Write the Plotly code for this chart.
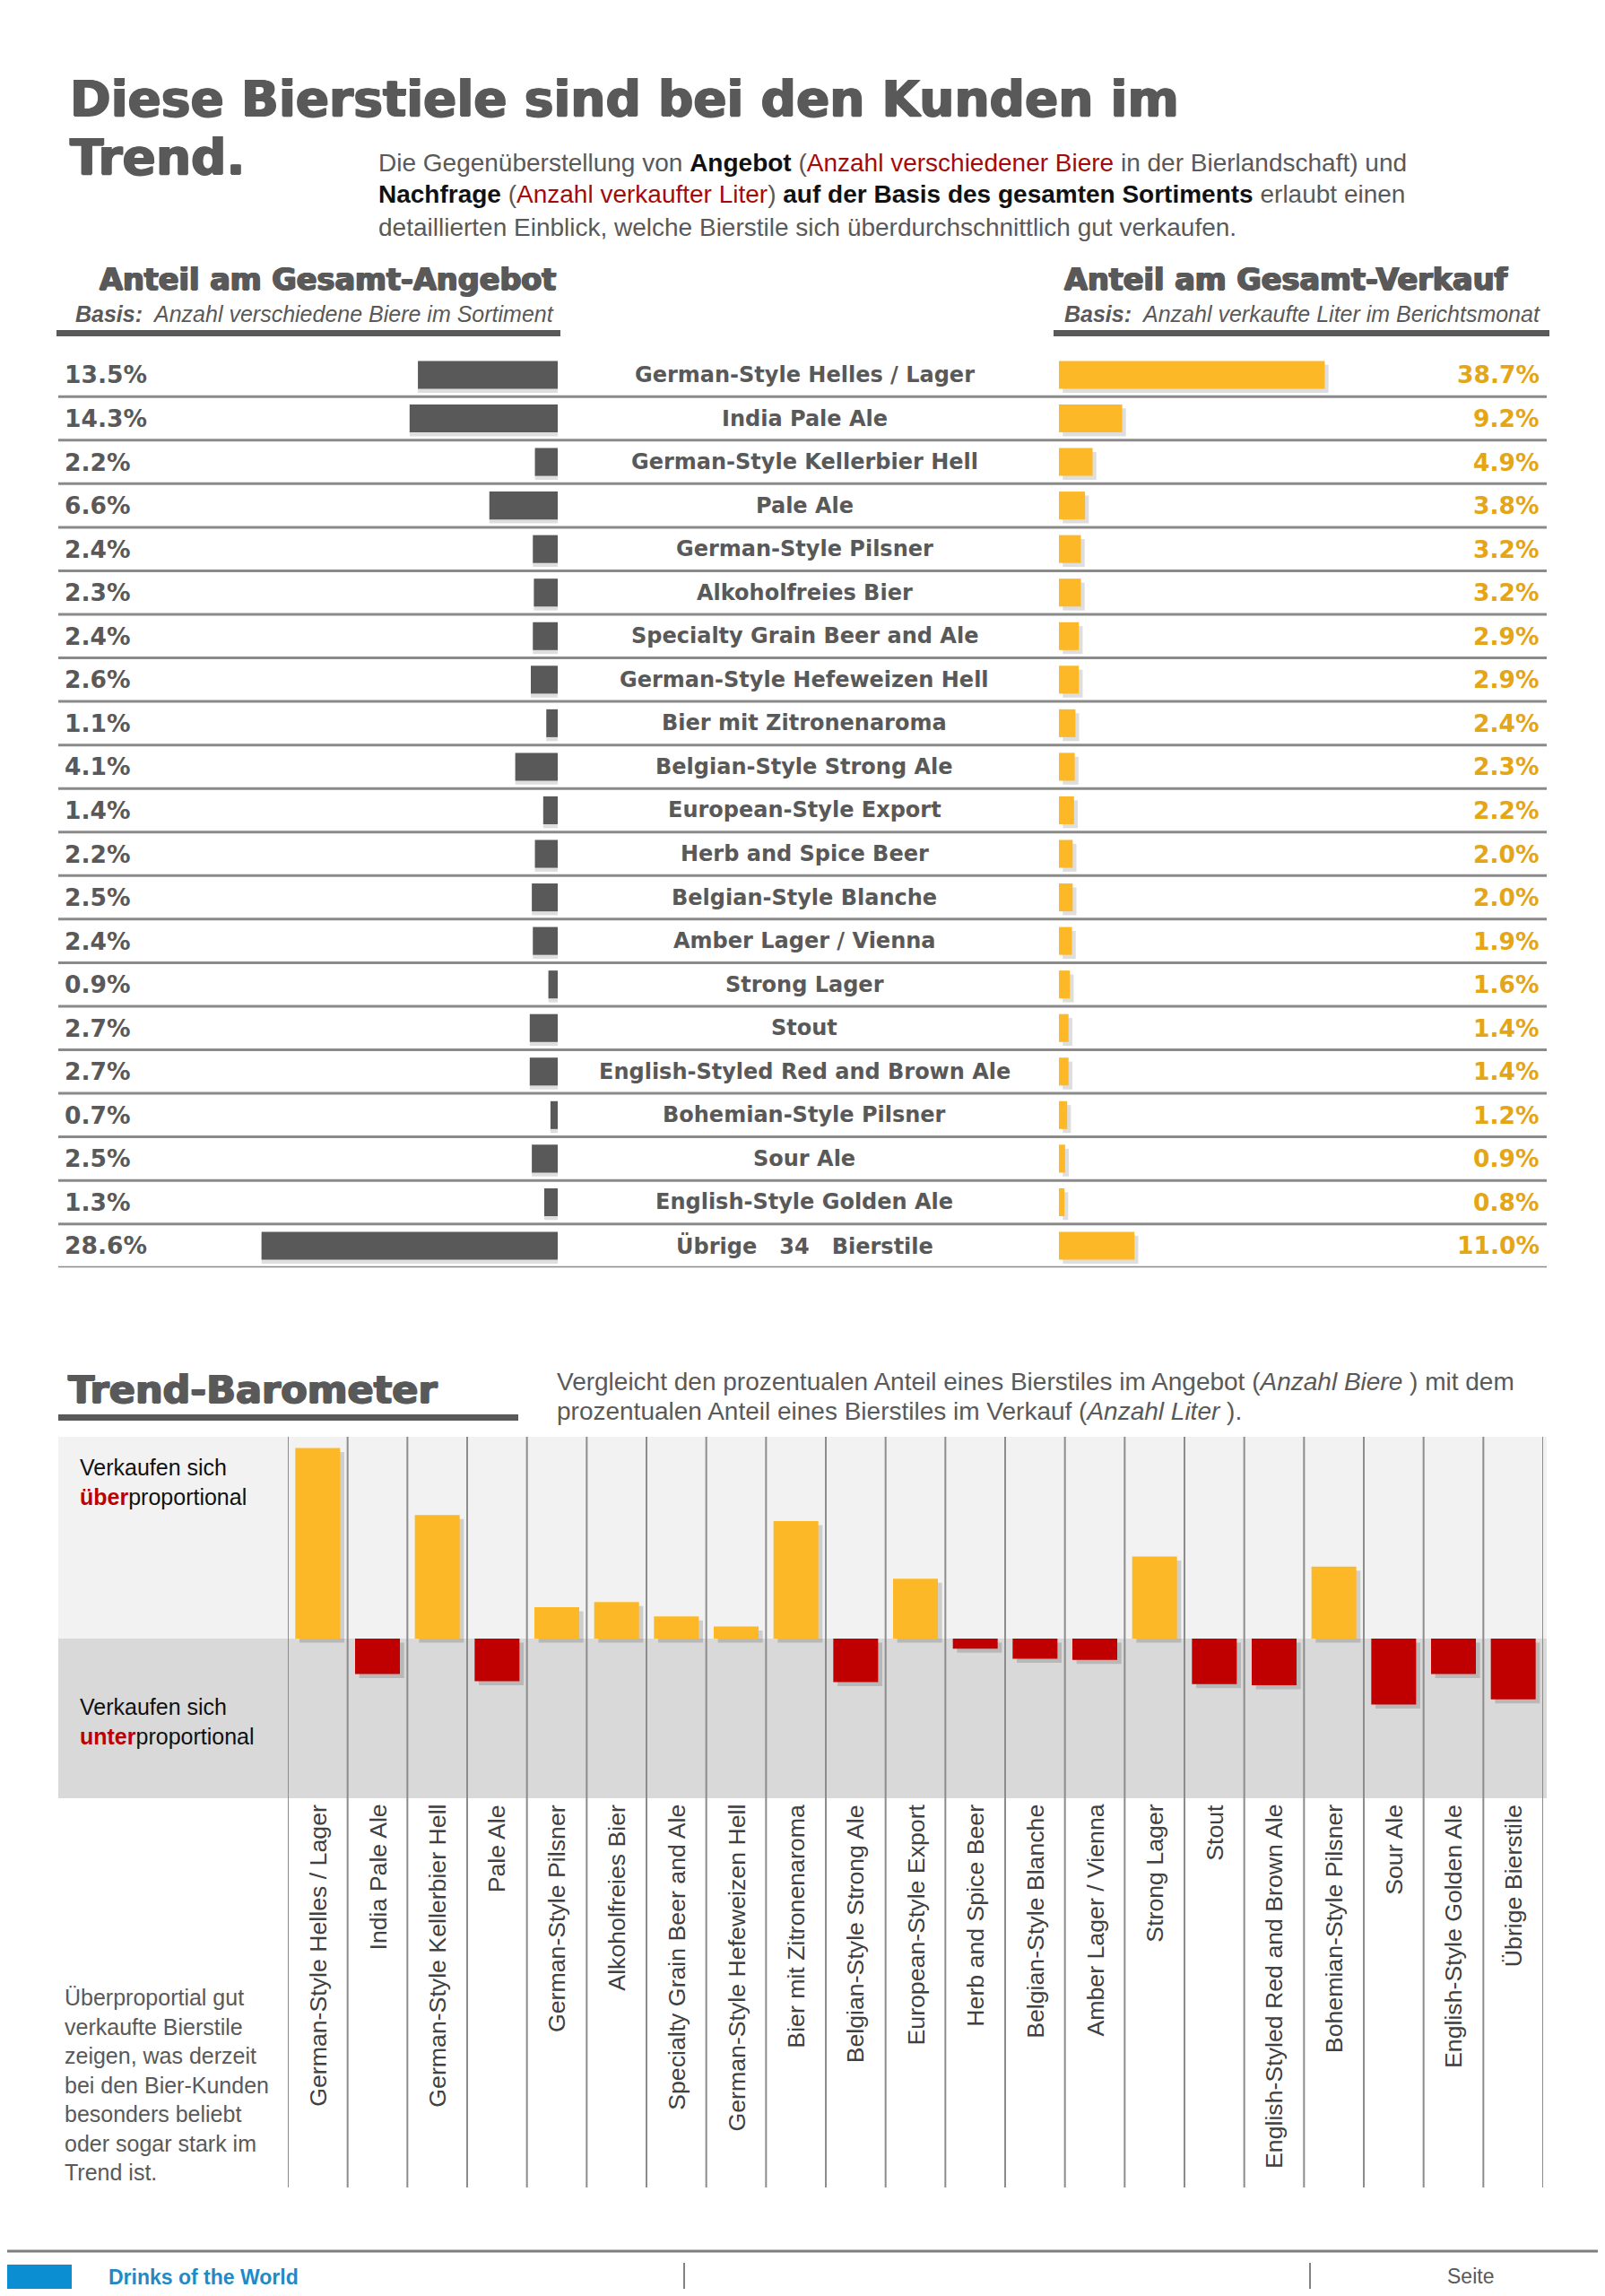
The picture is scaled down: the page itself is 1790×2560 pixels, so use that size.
import plotly.graph_objects as go

W, H = 1790, 2560
PAD = 8                      # default body margin of the html page
FW, FH = W - 2 * PAD, H - 2 * PAD


def px(x):
    return (x - PAD) / FW


def py(y):
    return 1 - (y - PAD) / FH


# ---------------- data ----------------
styles = [
    "German-Style Helles / Lager", "India Pale Ale", "German-Style Kellerbier Hell",
    "Pale Ale", "German-Style Pilsner", "Alkoholfreies Bier",
    "Specialty Grain Beer and Ale", "German-Style Hefeweizen Hell",
    "Bier mit Zitronenaroma", "Belgian-Style Strong Ale", "European-Style Export",
    "Herb and Spice Beer", "Belgian-Style Blanche", "Amber Lager / Vienna",
    "Strong Lager", "Stout", "English-Styled Red and Brown Ale",
    "Bohemian-Style Pilsner", "Sour Ale", "English-Style Golden Ale",
    "Übrige\u00a0\u00a0 34\u00a0\u00a0 Bierstile",
]
angebot = [13.5, 14.3, 2.2, 6.6, 2.4, 2.3, 2.4, 2.6, 1.1, 4.1, 1.4,
           2.2, 2.5, 2.4, 0.9, 2.7, 2.7, 0.7, 2.5, 1.3, 28.6]
verkauf = [38.7, 9.2, 4.9, 3.8, 3.2, 3.2, 2.9, 2.9, 2.4, 2.3, 2.2,
           2.0, 2.0, 1.9, 1.6, 1.4, 1.4, 1.2, 0.9, 0.8, 11.0]

trend_labels = [
    "German-Style Helles / Lager", "India Pale Ale", "German-Style Kellerbier Hell",
    "Pale Ale", "German-Style Pilsner", "Alkoholfreies Bier",
    "Specialty Grain Beer and Ale", "German-Style Hefeweizen Hell",
    "Bier mit Zitronenaroma", "Belgian-Style Strong Ale", "European-Style Export",
    "Herb and Spice Beer", "Belgian-Style Blanche", "Amber Lager / Vienna",
    "Strong Lager", "Stout", "English-Styled Red and Brown Ale",
    "Bohemian-Style Pilsner", "Sour Ale", "English-Style Golden Ale",
    "Übrige Bierstile",
]
# trend index read from the barometer (Verkauf share relative to Angebot share, minus 1)
trend_index = [1.88, -0.35, 1.22, -0.42, 0.31, 0.36, 0.22, 0.12, 1.16, -0.43, 0.59,
               -0.10, -0.20, -0.21, 0.81, -0.45, -0.46, 0.71, -0.65, -0.35, -0.60]

# ---------------- styles ----------------
GRAY = "#595959"
ORANGE = "#FDB827"
ORANGE_TXT = "#E4A516"
RED = "#C00000"
DARKRED = "#A50A0A"
SANS = "Liberation Sans, Arial, sans-serif"
WIDE = "DejaVu Sans, Verdana, sans-serif"
HEAVY = "1px 0px 0px #595959, -1px 0px 0px #595959, 0px 0.7px 0px #595959"

rows = list(range(len(styles)))
cols = list(range(len(trend_labels)))

# layout geometry (pixels of the 1790x2560 page)
ROW_TOP, ROW_H = 393.7, 48.55
ROW_BOT = ROW_TOP + ROW_H * len(rows)
L_X0, L_X1, L_SCALE = 65, 622, 11.55
R_X0, R_X1, R_SCALE = 1181, 1725, 7.66
B_X0, B_X1 = 321, 1721
B_TOP, B_ZERO, B_BOT, B_SCALE = 1602, 1827, 2005, 113.0

fig = go.Figure()

# ---- top table bars ----
fig.add_trace(go.Bar(x=angebot, y=[r + 0.09 for r in rows], orientation="h", width=0.64,
                     marker=dict(color="rgba(0,0,0,0.13)", line_width=0),
                     xaxis="x", yaxis="y", hoverinfo="skip", showlegend=False))
fig.add_trace(go.Bar(x=angebot, y=rows, orientation="h", width=0.64,
                     marker=dict(color=GRAY, line_width=0),
                     xaxis="x", yaxis="y", showlegend=False))
fig.add_trace(go.Bar(x=verkauf, y=[r + 0.09 for r in rows], base=0.55, orientation="h", width=0.64,
                     marker=dict(color="rgba(0,0,0,0.13)", line_width=0),
                     xaxis="x2", yaxis="y2", hoverinfo="skip", showlegend=False))
fig.add_trace(go.Bar(x=verkauf, y=rows, orientation="h", width=0.64,
                     marker=dict(color=ORANGE, line_width=0),
                     xaxis="x2", yaxis="y2", showlegend=False))

# ---- barometer bars ----
fig.add_trace(go.Bar(x=cols, y=trend_index, base=-0.04, width=0.75, offset=-0.375 + 0.07,
                     marker=dict(color="rgba(0,0,0,0.15)", line_width=0),
                     xaxis="x3", yaxis="y3", hoverinfo="skip", showlegend=False))
fig.add_trace(go.Bar(x=cols, y=trend_index, width=0.75,
                     marker=dict(color=[ORANGE if v > 0 else RED for v in trend_index], line_width=0),
                     xaxis="x3", yaxis="y3", showlegend=False))

shapes = []
ann = []

# separator lines of the table
for r in rows:
    shapes.append(dict(type="line", xref="paper", yref="y", x0=px(65), x1=px(1725),
                       y0=r + 0.5, y1=r + 0.5, line=dict(color="#8a8a8a", width=3)))

# header underline bars
for x0, x1 in [(63, 625), (1175, 1728)]:
    shapes.append(dict(type="rect", xref="paper", yref="paper", x0=px(x0), x1=px(x1),
                       y0=py(375), y1=py(368), fillcolor=GRAY, line_width=0))

# barometer background
shapes.append(dict(type="rect", xref="paper", yref="paper", x0=px(65), x1=px(1725),
                   y0=py(B_ZERO), y1=py(B_TOP), fillcolor="#F2F2F2", line_width=0, layer="below"))
shapes.append(dict(type="rect", xref="paper", yref="paper", x0=px(65), x1=px(1725),
                   y0=py(B_BOT), y1=py(B_ZERO), fillcolor="#D9D9D9", line_width=0, layer="below"))
for i in range(len(cols) + 1):
    shapes.append(dict(type="line", xref="x3", yref="paper", x0=i - 0.5, x1=i - 0.5,
                       y0=py(2439), y1=py(B_TOP), line=dict(color="#8c8c8c", width=2), layer="below"))

# trend barometer underline
shapes.append(dict(type="rect", xref="paper", yref="paper", x0=px(65), x1=px(578),
                   y0=py(1584), y1=py(1577), fillcolor=GRAY, line_width=0))

# footer
shapes.append(dict(type="line", xref="paper", yref="paper", x0=px(0), x1=px(W), y0=py(2510), y1=py(2510),
                   line=dict(color="#7f7f7f", width=3)))
shapes.append(dict(type="rect", xref="paper", yref="paper", x0=px(0), x1=px(80), y0=py(2560), y1=py(2525),
                   fillcolor="#0B8FD2", line_width=0))
for xv in [763, 1461]:
    shapes.append(dict(type="line", xref="paper", yref="paper", x0=px(xv), x1=px(xv),
                       y0=py(2560), y1=py(2523), line=dict(color=GRAY, width=1.5)))


def txt(x, y, text, size, color=GRAY, family=SANS, xanchor="left", yanchor="middle", shadow=None, **kw):
    f = dict(size=size, color=color, family=family)
    if shadow:
        f["shadow"] = shadow
    ann.append(dict(x=px(x), y=py(y), xref="paper", yref="paper", text=text, showarrow=False,
                    xanchor=xanchor, yanchor=yanchor, font=f, **kw))


# title
txt(76, 110, "<b>Diese Bierstiele sind bei den Kunden im</b>", 55, family=WIDE, shadow=HEAVY)
txt(76, 175, "<b>Trend.</b>", 55, family=WIDE, shadow=HEAVY)

B = "<span style='color:#111111'><b>%s</b></span>"
R_ = "<span style='color:%s'>%s</span>" % (DARKRED, "%s")
txt(420, 181, "Die Gegenüberstellung von " + B % "Angebot" + " (" + R_ % "Anzahl verschiedener Biere"
    + " in der Bierlandschaft) und", 28)
txt(420, 217, B % "Nachfrage" + " (" + R_ % "Anzahl verkaufter Liter" + ") "
    + B % "auf der Basis des gesamten Sortiments" + " erlaubt einen", 28)
txt(420, 253, "detaillierten Einblick, welche Bierstile sich überdurchschnittlich gut verkaufen.", 28)

# table headers
txt(622, 312, "<b>Anteil am Gesamt-Angebot</b>", 33.5, family=WIDE, xanchor="right", shadow=HEAVY)
txt(620, 350, "<i><b>Basis:</b>  Anzahl verschiedene Biere im Sortiment</i>", 25, xanchor="right")
txt(1185, 312, "<b>Anteil am Gesamt-Verkauf</b>", 33.5, family=WIDE, shadow=HEAVY)
txt(1185, 350, "<i><b>Basis:</b>  Anzahl verkaufte Liter im Berichtsmonat</i>", 25)

# table row texts
for r, name, a, v in zip(rows, styles, angebot, verkauf):
    ann.append(dict(x=px(70), y=r, xref="paper", yref="y", text="<b>%.1f%%</b>" % a, showarrow=False,
                    xanchor="left", yanchor="middle", font=dict(size=26.5, color=GRAY, family=WIDE)))
    ann.append(dict(x=px(897), y=r, xref="paper", yref="y", text="<b>%s</b>" % name, showarrow=False,
                    xanchor="center", yanchor="middle", font=dict(size=24, color=GRAY, family=WIDE)))
    ann.append(dict(x=px(1719), y=r, xref="paper", yref="y", text="<b>%.1f%%</b>" % v, showarrow=False,
                    xanchor="right", yanchor="middle", font=dict(size=26.5, color=ORANGE_TXT, family=WIDE)))

# trend barometer heading
txt(74, 1549, "<b>Trend-Barometer</b>", 43, family=WIDE, shadow=HEAVY)
txt(619, 1540, "Vergleicht den prozentualen Anteil eines Bierstiles im Angebot (<i>Anzahl Biere</i> ) mit dem", 28)
txt(619, 1573, "prozentualen Anteil eines Bierstiles im Verkauf (<i>Anzahl Liter</i> ).", 28)

txt(87, 1652, "Verkaufen sich<br><span style='color:%s'><b>über</b></span>proportional" % RED, 25,
    color="#111111", align="left")
txt(87, 1919, "Verkaufen sich<br><span style='color:%s'><b>unter</b></span>proportional" % RED, 25,
    color="#111111", align="left")

# rotated category labels
for c, lab in zip(cols, trend_labels):
    ann.append(dict(x=c, y=py(2010), xref="x3", yref="paper", text=lab, showarrow=False, textangle=-90,
                    xanchor="center", yanchor="top", font=dict(size=26.7, color="#404040", family=SANS)))

txt(70, 2324, "Überproportial gut<br>verkaufte Bierstile<br>zeigen, was derzeit<br>bei den Bier-Kunden"
    "<br>besonders beliebt<br>oder sogar stark im<br>Trend ist.", 25, align="left")

# footer texts
txt(119, 2539, "<b>Drinks of the World</b>", 23, color="#1E8BC8")
txt(1612, 2538, "Seite", 23)
txt(1690, 2576, "<b>16</b>", 48, family=WIDE)

fig.update_layout(
    width=FW, height=FH, margin=dict(l=0, r=0, t=0, b=0),
    paper_bgcolor="white", plot_bgcolor="rgba(0,0,0,0)",
    barmode="overlay", showlegend=False,
    shapes=shapes, annotations=ann,
    xaxis=dict(domain=[px(L_X0), px(L_X1)], range=[(L_X1 - L_X0) / L_SCALE, 0], visible=False,
               anchor="y", fixedrange=True),
    yaxis=dict(domain=[py(ROW_BOT), py(ROW_TOP)], range=[len(rows) - 0.5, -0.5], visible=False,
               anchor="x", fixedrange=True),
    xaxis2=dict(domain=[px(R_X0), px(R_X1)], range=[0, (R_X1 - R_X0) / R_SCALE], visible=False,
                anchor="y2", fixedrange=True),
    yaxis2=dict(domain=[py(ROW_BOT), py(ROW_TOP)], range=[len(rows) - 0.5, -0.5], visible=False,
                anchor="x2", fixedrange=True),
    xaxis3=dict(domain=[px(B_X0), px(B_X1)], range=[-0.5, len(cols) - 0.5], visible=False,
                anchor="y3", fixedrange=True),
    yaxis3=dict(domain=[py(B_BOT), py(B_TOP)],
                range=[-(B_BOT - B_ZERO) / B_SCALE, (B_ZERO - B_TOP) / B_SCALE], visible=False,
                anchor="x3", fixedrange=True),
)

fig.write_html("out.html")
